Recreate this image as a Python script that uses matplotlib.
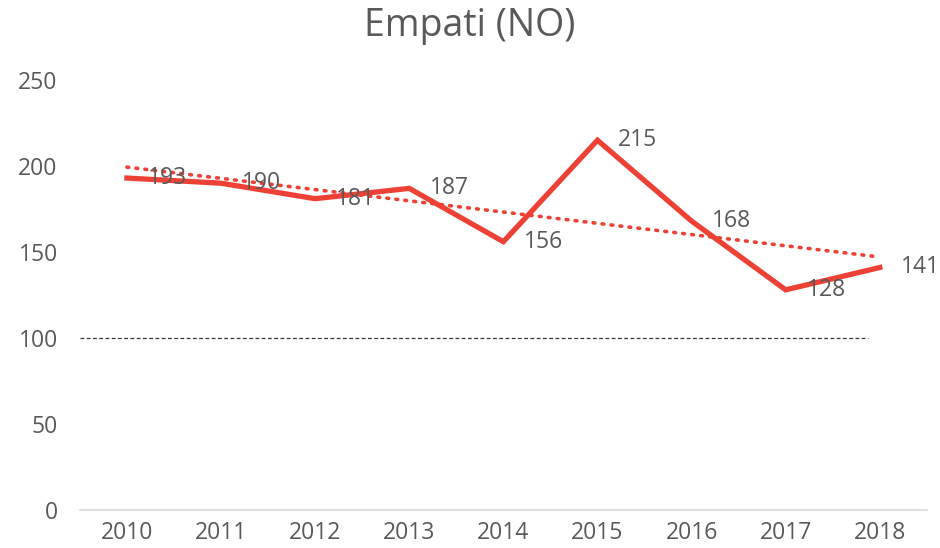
import matplotlib
matplotlib.use("Agg")
import matplotlib.pyplot as plt
import numpy as np

years = ["2010", "2011", "2012", "2013", "2014", "2015", "2016", "2017", "2018"]
values = [193, 190, 181, 187, 156, 215, 168, 128, 141]
yticks = [0, 50, 100, 150, 200, 250]
ref_level = 100
title = "Empati (NO)"

plt.rcParams['font.family'] = ['Open Sans', 'DejaVu Sans']
gray = '#595959'
red = '#EE4136'

fig = plt.figure(figsize=(9.4, 5.48), dpi=100)
ax = fig.add_axes([0.085, 0.0693, 0.901, 0.7847])
x = np.arange(len(years))

ax.hlines(ref_level, -0.5, 7.87, colors='#333333', linestyles=(0, (3, 2)), linewidth=0.9, zorder=1)

coef = np.polyfit(x, values, 1)
ax.plot(x, np.polyval(coef, x), color=red, linestyle=(0, (0.5, 2.0)), linewidth=2.6,
        dash_capstyle='round', zorder=2)
ax.plot(x, values, color=red, linewidth=3.8, solid_joinstyle='miter', zorder=3)

for xi, v in zip(x, values):
    ax.annotate(str(v), (xi, v), xytext=(15, 0), textcoords='offset points',
                ha='left', va='center', fontsize=16.5, color=gray, zorder=4)

ax.set_xlim(-0.5, len(years) - 0.5)
ax.set_ylim(0, 250)
ax.set_xticks(x)
ax.set_xticklabels(years)
ax.set_yticks(yticks)
ax.tick_params(axis='both', length=0, labelsize=16.5, labelcolor=gray)
ax.tick_params(axis='x', pad=8)
ax.tick_params(axis='y', pad=16)
for s in ['top', 'right', 'left']:
    ax.spines[s].set_visible(False)
ax.spines['bottom'].set_color('#D9D9D9')
ax.spines['bottom'].set_linewidth(1.2)

fig.text(0.5, 0.952, title, ha='center', va='center', fontsize=27, color=gray)

fig.savefig("out.png", dpi=100, facecolor='white')
